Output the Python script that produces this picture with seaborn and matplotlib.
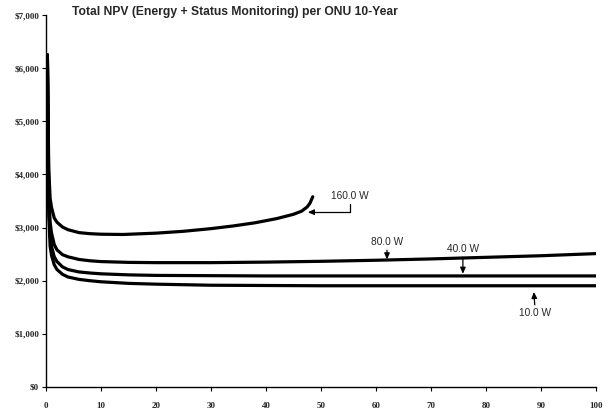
import matplotlib
matplotlib.use("Agg")
import matplotlib.pyplot as plt
import seaborn as sns
import pandas as pd

# ---- data ----
x_160 = [0.25, 0.5, 0.75, 1, 1.5, 2, 3, 4, 6, 8, 10, 14, 20, 25, 30, 34, 38, 42, 45, 46.5, 47.5, 48, 48.5]
npv_160 = [6250, 4100, 3550, 3380, 3180, 3100, 3010, 2960, 2905, 2885, 2875, 2870, 2895, 2930, 2980, 3030, 3090, 3170, 3250, 3310, 3390, 3460, 3580]

x_long = [0.25, 0.5, 0.75, 1, 1.5, 2, 3, 4, 6, 8, 10, 15, 20, 30, 40, 50, 60, 70, 80, 90, 100]
npv_80 = [6250, 3700, 3100, 2900, 2680, 2580, 2490, 2450, 2400, 2375, 2360, 2345, 2340, 2340, 2350, 2365, 2385, 2410, 2440, 2470, 2510]
npv_40 = [6250, 3450, 2850, 2650, 2450, 2360, 2260, 2210, 2165, 2145, 2130, 2110, 2100, 2095, 2090, 2090, 2090, 2090, 2090, 2090, 2090]
npv_10 = [6250, 3250, 2650, 2480, 2300, 2210, 2120, 2070, 2025, 2000, 1980, 1950, 1935, 1915, 1910, 1905, 1905, 1905, 1905, 1905, 1905]

series_labels = ["160.0 W", "80.0 W", "40.0 W", "10.0 W"]
x_ticks = [0, 10, 20, 30, 40, 50, 60, 70, 80, 90, 100]
y_ticks = [0, 1000, 2000, 3000, 4000, 5000, 6000, 7000]
title = "Total NPV (Energy + Status Monitoring) per ONU 10-Year"

frames = []
for lab, xs, ys in [("160.0 W", x_160, npv_160), ("80.0 W", x_long, npv_80),
                    ("40.0 W", x_long, npv_40), ("10.0 W", x_long, npv_10)]:
    frames.append(pd.DataFrame({"x": xs, "npv": ys, "power": lab}))
df = pd.concat(frames, ignore_index=True)

sns.set_style("white")
fig = plt.figure(figsize=(6.08, 4.12), dpi=100)
ax = fig.add_axes([46 / 608, 1 - 387 / 412, (596 - 46) / 608, (387 - 15) / 412])

sns.lineplot(data=df, x="x", y="npv", hue="power", hue_order=series_labels,
             palette=["black"] * 4, linewidth=2.3, legend=False, ax=ax,
             sort=False, estimator=None)

ax.set_xlim(0, 100)
ax.set_ylim(0, 7000)
ax.set_xticks(x_ticks)
ax.set_yticks(y_ticks)
ax.set_xticklabels([str(v) for v in x_ticks])
ax.set_yticklabels([f"${v:,}" for v in y_ticks])
ax.set_xlabel("")
ax.set_ylabel("")
for s in ["top", "right"]:
    ax.spines[s].set_visible(False)
for s in ["left", "bottom"]:
    ax.spines[s].set_color("black")
    ax.spines[s].set_linewidth(1.0)
ax.tick_params(axis="both", direction="out", length=3, width=0.8, color="black",
               left=True, bottom=True)
ax.tick_params(axis="x", pad=8)
ax.tick_params(axis="y", pad=2)
for lab in ax.get_xticklabels() + ax.get_yticklabels():
    lab.set_fontfamily("Liberation Serif")
    lab.set_fontweight("bold")
    lab.set_fontsize(6.5)

fig.text(72 / 608, 1 - 12 / 412, title, fontfamily="Liberation Sans",
         fontweight="bold", fontsize=8.7, ha="left", va="center")

afont = dict(fontfamily="Liberation Sans", fontsize=7.3)
arrow_base = dict(arrowstyle="-|>,head_length=0.5,head_width=0.22", color="black",
                  lw=0.9, shrinkA=0, shrinkB=0)

ax.annotate("160.0 W", xy=(47.6, 3290), xytext=(55.3, 3590),
            ha="center", va="center", **afont,
            arrowprops=dict(connectionstyle="angle,angleA=-90,angleB=0,rad=0",
                            relpos=(0.5, 0.0), **arrow_base))
ax.annotate("80.0 W", xy=(62.0, 2400), xytext=(62.0, 2730),
            ha="center", va="center", **afont,
            arrowprops=dict(relpos=(0.5, 0.0), **arrow_base))
ax.annotate("40.0 W", xy=(75.8, 2130), xytext=(75.8, 2600),
            ha="center", va="center", **afont,
            arrowprops=dict(relpos=(0.5, 0.0), **arrow_base))
ax.annotate("10.0 W", xy=(88.7, 1790), xytext=(88.9, 1390),
            ha="center", va="center", **afont,
            arrowprops=dict(relpos=(0.5, 1.0), **arrow_base))

fig.savefig("out.png", dpi=100)
